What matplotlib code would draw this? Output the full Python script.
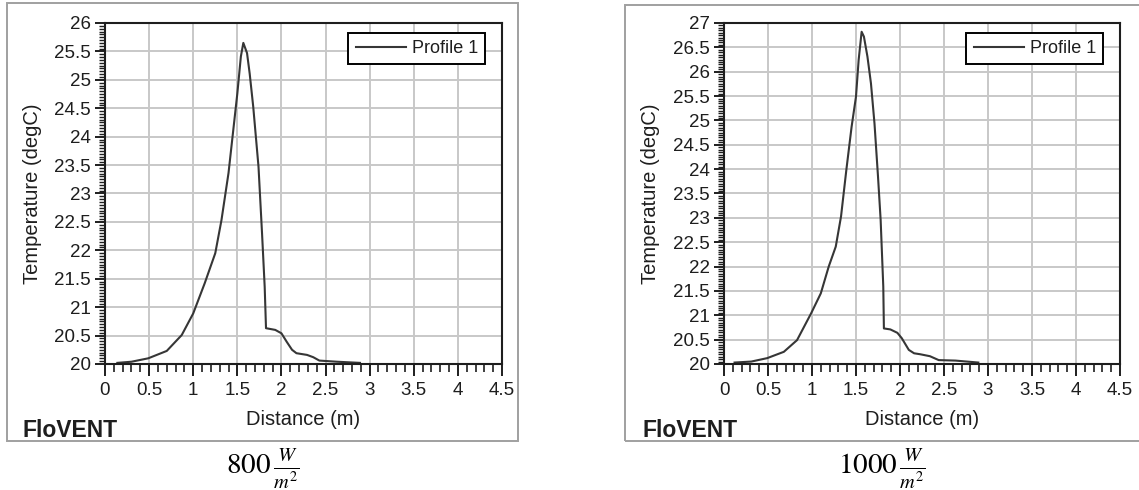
import matplotlib.pyplot as plt
from matplotlib.patches import Rectangle
from matplotlib.ticker import MultipleLocator

plt.rcParams['font.family'] = ['Liberation Sans', 'DejaVu Sans']
plt.rcParams['mathtext.fontset'] = 'stix'

# temperature along the profile line, 800 W/m2 case
dist_800 = [0.14, 0.30, 0.49, 0.70, 0.87, 1.00, 1.13, 1.25, 1.32, 1.40, 1.45, 1.50, 1.54,
            1.568, 1.61, 1.64, 1.68, 1.74, 1.78, 1.81, 1.825, 1.93, 2.00, 2.06, 2.12, 2.17,
            2.29, 2.36, 2.43, 2.63, 2.89]
temp_800 = [20.02, 20.04, 20.10, 20.23, 20.51, 20.89, 21.42, 21.95, 22.53, 23.36, 24.06,
            24.76, 25.41, 25.65, 25.47, 25.11, 24.53, 23.47, 22.30, 21.36, 20.63, 20.60,
            20.54, 20.39, 20.25, 20.19, 20.16, 20.12, 20.06, 20.04, 20.02]

# 1000 W/m2 case
dist_1000 = [0.12, 0.31, 0.49, 0.68, 0.83, 0.99, 1.10, 1.19, 1.27, 1.33, 1.39, 1.45, 1.50,
             1.53, 1.564, 1.59, 1.63, 1.67, 1.71, 1.75, 1.78, 1.81, 1.817, 1.89, 1.97, 2.02,
             2.10, 2.16, 2.23, 2.34, 2.44, 2.63, 2.89]
temp_1000 = [20.03, 20.05, 20.12, 20.25, 20.49, 21.04, 21.45, 22.00, 22.41, 23.03, 23.98,
             24.87, 25.49, 26.24, 26.82, 26.72, 26.31, 25.76, 24.94, 23.85, 22.96, 21.59,
             20.73, 20.71, 20.64, 20.53, 20.29, 20.22, 20.20, 20.16, 20.08, 20.07, 20.03]

captions = [r'$800\,\frac{W}{m^2}$', r'$1000\,\frac{W}{m^2}$']
ymax_list = [26, 27]

W, H = 1139, 490
fig = plt.figure(figsize=(W / 100, H / 100), dpi=100)

# pixel boxes: axes (left, right, top, bottom), outer frame (left, right, top, bottom)
axes_px = [(105, 502, 23, 364), (724, 1120, 23, 364)]
frame_px = [(7, 518, 3, 441), (625, 1142, 5, 441)]
ylabel_x = [42, 660]
flovent_x = [23, 643]
caption_x = [263, 882]

INK = '#1e1e1e'


def fx(px):
    return px / W


def fy(py):
    return 1 - py / H


panels = [(dist_800, temp_800), (dist_1000, temp_1000)]
for i, (xd, yd) in enumerate(panels):
    l, r, t, b = axes_px[i]
    aw, ah = r - l, b - t
    ax = fig.add_axes([fx(l), fy(b), aw / W, ah / H])
    ax.plot(xd, yd, color='#363636', lw=1.5, label='Profile 1')
    ax.set_xlim(0, 4.5)
    ax.set_ylim(20, ymax_list[i])
    ax.xaxis.set_major_locator(MultipleLocator(0.5))
    ax.xaxis.set_minor_locator(MultipleLocator(0.1))
    ax.yaxis.set_major_locator(MultipleLocator(0.5))
    ax.yaxis.set_minor_locator(MultipleLocator(0.05))
    ax.xaxis.set_major_formatter(lambda v, p: f'{v:g}')
    ax.yaxis.set_major_formatter(lambda v, p: f'{v:g}')
    ax.grid(True, which='major', color='#c8c8c8', lw=1.4)
    ax.set_axisbelow(True)
    ax.tick_params(axis='x', which='major', length=8.6, width=1.4, color=INK,
                   labelsize=13.5, labelcolor=INK, pad=4)
    ax.tick_params(axis='x', which='minor', length=5.4, width=1.2, color=INK)
    ax.tick_params(axis='y', which='major', length=7.2, width=1.4, color=INK,
                   labelsize=13.5, labelcolor=INK, pad=3)
    ax.tick_params(axis='y', which='minor', length=4.3, width=1.0, color=INK)
    for s in ax.spines.values():
        s.set_color(INK)
        s.set_linewidth(1.5)
    ax.set_xlabel('Distance (m)', fontsize=14.5, color=INK)
    ax.xaxis.set_label_coords(0.5, (b - 410) / ah)
    ax.set_ylabel('Temperature (degC)', fontsize=14.5, color=INK)
    ax.yaxis.set_label_coords((ylabel_x[i] - l) / aw, 0.5)
    leg = ax.legend(loc='upper right', bbox_to_anchor=(1 - 17 / aw, 1 - 10 / ah),
                    borderaxespad=0, fontsize=13, frameon=True, fancybox=False,
                    edgecolor='black', framealpha=1, handlelength=2.8,
                    borderpad=0.4, handletextpad=0.3)
    leg.get_frame().set_linewidth(1.4)
    leg.get_texts()[0].set_color(INK)

    fl, fr, ft, fb = frame_px[i]
    fig.patches.append(Rectangle((fx(fl), fy(fb)), (fr - fl) / W, (fb - ft) / H,
                                 transform=fig.transFigure, fill=False,
                                 edgecolor='#a0a0a0', lw=1.4))
    fig.text(fx(flovent_x[i]), fy(437), 'FloVENT', fontsize=16.5, fontweight='bold',
             color=INK, ha='left', va='baseline')
    fig.text(fx(caption_x[i]), fy(469), captions[i], fontsize=21,
             ha='center', va='center')

fig.savefig('out.png', dpi=100)
